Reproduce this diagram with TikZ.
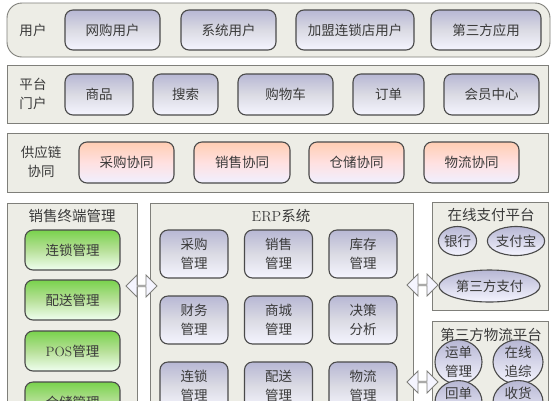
\documentclass[tikz,border=0pt]{standalone}
\usepackage{fontspec}
\newfontfamily\cjk{Noto Sans CJK SC}
\usetikzlibrary{shapes.geometric,shapes.arrows}
\definecolor{panelfill}{HTML}{EDEDE6}
\definecolor{panelline}{HTML}{7F7F7A}
\definecolor{boxline}{HTML}{4A4A4A}
\definecolor{txt}{HTML}{3A3A3A}
\begin{document}
\begin{tikzpicture}[x=1pt,y=-1pt,
	every node/.style={font=\cjk\fontsize{13.5}{19}\selectfont,text=txt,align=center},
	panel/.style={draw=panelline,fill=panelfill,line width=0.9pt},
	boxbase/.style={draw=boxline,line width=1.1pt,rounded corners=8pt,inner sep=0pt},
	bluebox/.style={boxbase,top color=blue!25!gray!45!white,bottom color=blue!4!white,middle color=blue!14!gray!25!white},
	pinkbox/.style={boxbase,top color=red!30!orange!30!white,bottom color=blue!6!white,middle color=red!12!white},
	greenbox/.style={boxbase,top color=green!50!olive!70!white,bottom color=green!6!white,middle color=green!40!olive!40!white},
	oval/.style={ellipse,draw=boxline,line width=1.1pt,inner sep=0pt,top color=blue!25!gray!45!white,bottom color=blue!4!white},
	dblarrow/.style={double arrow,draw=panelline,fill=blue!4!white,line width=0.8pt,inner sep=0pt,minimum height=31pt,minimum width=22pt,double arrow head extend=6pt},
	title/.style={font=\cjk\fontsize{14.5}{19}\selectfont}]
\useasboundingbox (0,0) rectangle (553,400);
\fill[white] (0,0) rectangle (553,400);
\clip (0,0) rectangle (553,400);
%users
\draw[panel,rounded corners=15pt] (7,3) rectangle (550,57);
\node (lblusr) at (33,30) {用户};
\node[bluebox,minimum width=95pt,minimum height=40pt] (wg) at (112.5,30) {网购用户};
\node[bluebox,minimum width=95pt,minimum height=40pt] (xt) at (228.5,30) {系统用户};
\node[bluebox,minimum width=118pt,minimum height=40pt] (jm) at (355,30) {加盟连锁店用户};
\node[bluebox,minimum width=110pt,minimum height=40pt] (dsf) at (486,30) {第三方应用};
%portal
\draw[panel] (7,65) rectangle (548,123);
\node (lblmh) at (33,94) {平台\\门户};
\node[bluebox,minimum width=68pt,minimum height=41pt] (sp) at (99,94.5) {商品};
\node[bluebox,minimum width=65pt,minimum height=41pt] (ss) at (185.5,94.5) {搜索};
\node[bluebox,minimum width=95pt,minimum height=41pt] (gwc) at (285.5,94.5) {购物车};
\node[bluebox,minimum width=71pt,minimum height=41pt] (dd) at (388.5,94.5) {订单};
\node[bluebox,minimum width=95pt,minimum height=41pt] (hy) at (491.5,94.5) {会员中心};
%supply chain
\draw[panel] (7,133) rectangle (548,192);
\node (lblgyl) at (41,162) {供应链\\协同};
\node[pinkbox,minimum width=95pt,minimum height=41pt] (cg) at (126.5,162.5) {采购协同};
\node[pinkbox,minimum width=96pt,minimum height=41pt] (xs) at (242,162.5) {销售协同};
\node[pinkbox,minimum width=95pt,minimum height=41pt] (cc) at (356.5,162.5) {仓储协同};
\node[pinkbox,minimum width=95pt,minimum height=41pt] (wl) at (471.5,162.5) {物流协同};
%terminal
\draw[panel] (7,203) rectangle (137,420);
\node[title] (termt) at (72,216) {销售终端管理};
\node[greenbox,minimum width=95pt,minimum height=40pt] (ls) at (72.5,250) {连锁管理};
\node[greenbox,minimum width=95pt,minimum height=40pt] (ps) at (72.5,300) {配送管理};
\node[greenbox,minimum width=95pt,minimum height=40pt] (pos) at (72.5,351) {{\rmfamily POS}管理};
\node[greenbox,minimum width=95pt,minimum height=40pt] (ccg) at (72.5,402) {仓储管理};
%erp
\draw[panel] (150,203) rectangle (413,420);
\node[title] (erpt) at (281,216) {{\rmfamily ERP}系统};
\foreach \t [count=\i from 0] in {{采购\\管理},{销售\\管理},{库存\\管理},{财务\\管理},{商城\\管理},{决策\\分析},{连锁\\管理},{配送\\管理},{物流\\管理}}{
	\pgfmathsetmacro\cx{194+84.5*mod(\i,3)}
	\pgfmathsetmacro\cy{254+66*int(\i/3)}
	\node[bluebox,minimum width=68pt,minimum height=48pt] (erp\i) at (\cx,\cy) {\t};
}
%payment
\draw[panel] (432,202) rectangle (548,310);
\node[title] (payt) at (491,215) {在线支付平台};
\node[oval,minimum width=35pt,minimum height=29pt] (yh) at (457.5,241) {银行};
\node[oval,minimum width=54pt,minimum height=29pt] (zfb) at (516,241) {支付宝};
\node[oval,minimum width=101pt,minimum height=32pt] (dsfz) at (489.5,286) {第三方支付};
%logistics
\draw[panel] (432,321) rectangle (548,420);
\node[title] (logt) at (491,335) {第三方物流平台};
\node[oval,minimum width=47pt,minimum height=31pt] (yd) at (458.5,362) {运单\\管理};
\node[oval,minimum width=50pt,minimum height=31pt] (zx) at (518,362) {在线\\追综};
\node[oval,minimum width=47pt,minimum height=34pt] (hd) at (458.5,402) {回单\\~};
\node[oval,minimum width=50pt,minimum height=34pt] (sh) at (518,402) {收货\\~};
%links
\node[dblarrow] (a1) at (141.5,286) {};
\node[dblarrow] (a2) at (422.5,285) {};
\node[dblarrow] (a3) at (422.5,382) {};
\end{tikzpicture}
\end{document}
